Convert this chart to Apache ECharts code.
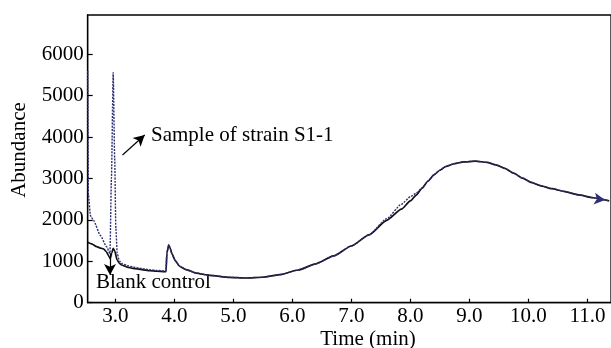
<!DOCTYPE html>
<html>
<head>
<meta charset="utf-8">
<script src="https://cdn.jsdelivr.net/npm/echarts@6/dist/echarts.min.js"></script>
<style>html,body{margin:0;padding:0;background:#fff}#c{width:611px;height:348px}</style>
</head>
<body>
<div id="c"></div>
<script>
// Blank control (solid black)
const blankTime = [2.533,2.6,2.685,2.75,2.8,2.85,2.897,2.915,2.94,2.965,2.99,3.033,3.07,3.107,3.2,3.302,3.45,3.584,3.7,3.837,3.86,3.875,3.905,3.93,3.96,4.02,4.09,4.2,4.37,4.6,4.93,5.21,5.5,5.8,6.1,6.4,6.7,7.0,7.3,7.6,7.85,8.0,8.1,8.2,8.3,8.4,8.5,8.6,8.75,8.9,9.1,9.3,9.45,9.6,9.75,9.9,10.05,10.2,10.4,10.6,10.85,11.1,11.37];
const blankAbund = [1460,1420,1353,1320,1300,1230,1111,1060,1200,1310,1250,1031,950,911,860,831,800,773,760,749,750,1200,1394,1320,1180,1010,880,800,715,660,613,597,615,680,790,940,1130,1370,1640,1990,2260,2460,2600,2770,2940,3090,3200,3290,3360,3400,3420,3390,3330,3245,3130,3010,2905,2830,2755,2690,2605,2535,2460];
// Sample of strain S1-1 (dotted navy)
const sampleTime = [2.533,2.545,2.58,2.63,2.75,2.85,2.91,2.935,2.965,2.99,3.01,3.033,3.07,3.107,3.2,3.302,3.45,3.584,3.7,3.837,3.86,3.875,3.905,3.93,3.96,4.02,4.09,4.2,4.37,4.6,4.93,5.21,5.5,5.8,6.1,6.4,6.7,7.0,7.3,7.6,7.85,8.0,8.1,8.2,8.3,8.4,8.5,8.6,8.75,8.9,9.1,9.3,9.45,9.6,9.75,9.9,10.05,10.2,10.4,10.6,10.85,11.1,11.37];
const sampleAbund = [5600,2600,2100,1990,1620,1360,1190,3000,5556,3500,1800,1193,1010,952,895,860,825,795,780,765,760,1200,1394,1320,1180,1010,880,800,715,660,613,597,615,680,790,940,1130,1370,1640,2030,2380,2560,2650,2770,2940,3090,3200,3290,3360,3400,3420,3390,3330,3245,3130,3010,2905,2830,2755,2690,2605,2535,2460];
const xTicks = [3,4,5,6,7,8,9,10,11];
const yTicks = [0,1000,2000,3000,4000,5000,6000];
const seriesNames = ['Blank control','Sample of strain S1-1'];
const xName = 'Time (min)';
const yName = 'Abundance';

const FONT = 'Liberation Serif';
const pair = (t, v) => t.map((x, i) => [x, v[i]]);

const chart = echarts.init(document.getElementById('c'), null, {renderer: 'canvas'});
chart.setOption({
  animation: false,
  backgroundColor: '#fff',
  grid: {left: 87.7, top: 15, right: -2.5, bottom: 45.3, show: true, borderColor: '#000', borderWidth: 1.3, backgroundColor: 'transparent'},
  xAxis: {
    type: 'value', min: 2.533, max: 11.4,
    axisLine: {lineStyle: {color: '#000', width: 1.3}},
    axisTick: {inside: true, length: 4, customValues: xTicks, lineStyle: {color: '#000', width: 1.2}},
    axisLabel: {customValues: xTicks, margin: 3, fontFamily: FONT, fontSize: 21, color: '#000', formatter: v => v.toFixed(1)},
    splitLine: {show: false}
  },
  yAxis: {
    type: 'value', min: 0, max: 6950, interval: 1000,
    axisLine: {show: true, lineStyle: {color: '#000', width: 1.3}},
    axisTick: {show: true, inside: true, length: 5, lineStyle: {color: '#000', width: 1.2}},
    axisLabel: {margin: 4, fontFamily: FONT, fontSize: 21, color: '#000', showMaxLabel: false,
      formatter: v => yTicks.includes(v) ? String(v) : ''},
    splitLine: {show: false}
  },
  graphic: [
    {type: 'text', x: 19, y: 150, rotation: Math.PI / 2,
     style: {text: yName, font: '21px "Liberation Serif"', fill: '#000', align: 'center', verticalAlign: 'middle'}},
    {type: 'text', x: 368, y: 339,
     style: {text: xName, font: '21px "Liberation Serif"', fill: '#000', align: 'center', verticalAlign: 'middle'}},
    {type: 'text', x: 151, y: 135,
     style: {text: seriesNames[1], font: '21px "Liberation Serif"', fill: '#000', align: 'left', verticalAlign: 'middle'}},
    {type: 'text', x: 96, y: 282,
     style: {text: seriesNames[0], font: '21px "Liberation Serif"', fill: '#000', align: 'left', verticalAlign: 'middle'}}
  ],
  series: [
    {
      name: seriesNames[0], type: 'line', data: pair(blankTime, blankAbund),
      showSymbol: false, symbol: 'none', smooth: 0.2, smoothMonotone: 'x', clip: true,
      lineStyle: {color: '#111', width: 1.7},
      markLine: {
        silent: true, symbol: ['none', 'arrow'], symbolSize: [9, 11],
        label: {show: false},
        lineStyle: {color: '#000', width: 1.2, type: 'solid'},
        data: [
          [{coord: [3.123, 3568]}, {coord: [3.499, 4051]}],
          [{coord: [2.911, 1195]}, {coord: [2.911, 669]}]
        ]
      }
    },
    {
      name: seriesNames[1], type: 'line', data: pair(sampleTime, sampleAbund),
      showSymbol: false, symbol: 'none', smooth: 0.2, smoothMonotone: 'x', clip: true,
      lineStyle: {color: '#2e2e72', width: 1.4, type: [2, 1.2]},
      markPoint: {
        silent: true,
        label: {show: false},
        data: [{coord: [11.3, 2478], symbol: 'arrow', symbolRotate: -98, symbolSize: [9, 11], itemStyle: {color: '#2e2e72'}}]
      }
    }
  ]
});
</script>
</body>
</html>
